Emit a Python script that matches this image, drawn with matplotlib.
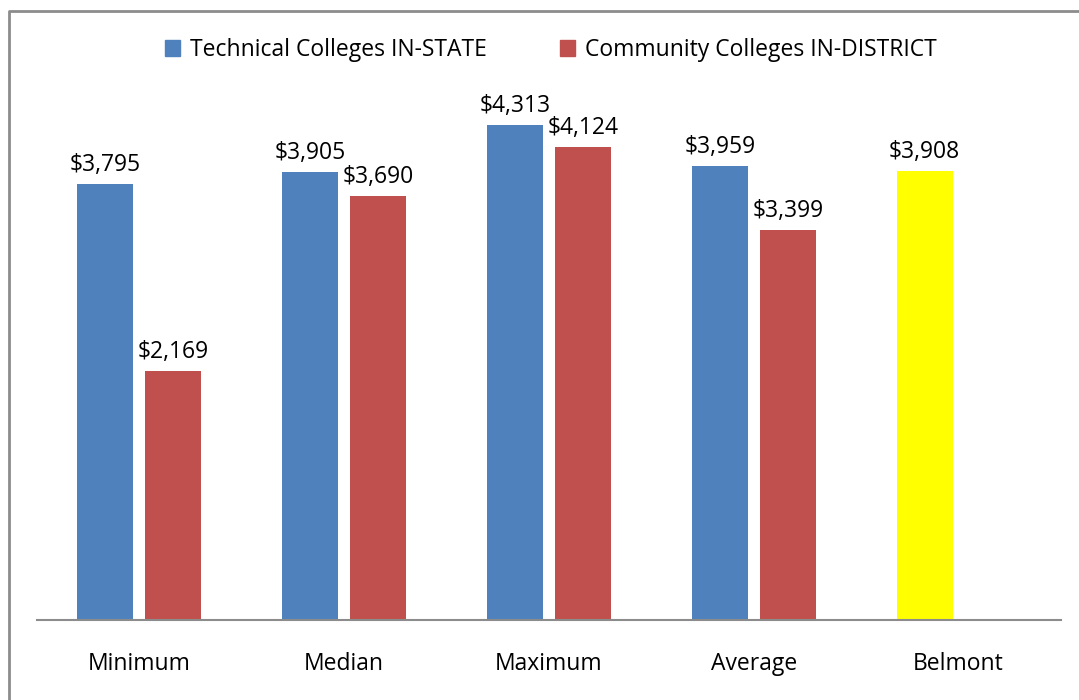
import numpy as np
import matplotlib
matplotlib.use("Agg")
from matplotlib import pyplot as plt
from matplotlib.lines import Line2D
from matplotlib.patches import Patch

# data
categories = ['Minimum', 'Median', 'Maximum', 'Average', 'Belmont']
technical = [3795, 3905, 4313, 3959, 3908]   # Belmont sits in the first series slot
community = [2169, 3690, 4124, 3399, np.nan]
series_names = ['Technical Colleges IN-STATE', 'Community Colleges IN-DISTRICT']

blue = '#4F81BD'
red = '#C0504D'
yellow = '#FFFF00'
tech_colors = [blue, blue, blue, blue, yellow]

plt.rcParams['font.family'] = ['Open Sans', 'DejaVu Sans']
fs = 16.5

W, H = 1079, 700
fig = plt.figure(figsize=(W / 100, H / 100), dpi=100)
ax = fig.add_axes([37 / W, 80 / H, 1024 / W, 574 / H])

x = np.arange(len(categories))
width = 0.274
off = 0.166
b1 = ax.bar(x - off, technical, width, color=tech_colors)
b2 = ax.bar(x + off, community, width, color=red)

for bars, vals in [(b1, technical), (b2, community)]:
    for rect, v in zip(bars, vals):
        if np.isnan(v):
            continue
        ax.annotate('${:,.0f}'.format(v), (rect.get_x() + rect.get_width() / 2, v),
                    xytext=(0, 5), textcoords='offset points',
                    ha='center', va='bottom', fontsize=fs)

ax.set_xlim(-0.5, len(categories) - 0.5)
ax.set_ylim(0, 5000)
ax.set_xticks(x)
ax.set_xticklabels(categories, fontsize=fs)
ax.tick_params(axis='x', length=0, pad=23)
ax.set_yticks([])
for s in ['left', 'right', 'top']:
    ax.spines[s].set_visible(False)
ax.spines['bottom'].set_color('#8c8c8c')
ax.spines['bottom'].set_linewidth(1.5)

handles = [Patch(color=blue), Patch(color=red)]
fig.legend(handles, series_names, loc='center', bbox_to_anchor=(551 / W, 1 - 50 / H),
           ncol=2, frameon=False, fontsize=fs, handlelength=0.65, handleheight=0.65,
           handletextpad=0.45, columnspacing=3.2)

# outer chart border (clipped on right and bottom in the reference)
fig.add_artist(Line2D([9 / W, 9 / W, 1.0], [0.0, 1 - 11 / H, 1 - 11 / H],
                      transform=fig.transFigure, color='#8c8c8c', lw=2))

fig.savefig('out.png', dpi=100)
